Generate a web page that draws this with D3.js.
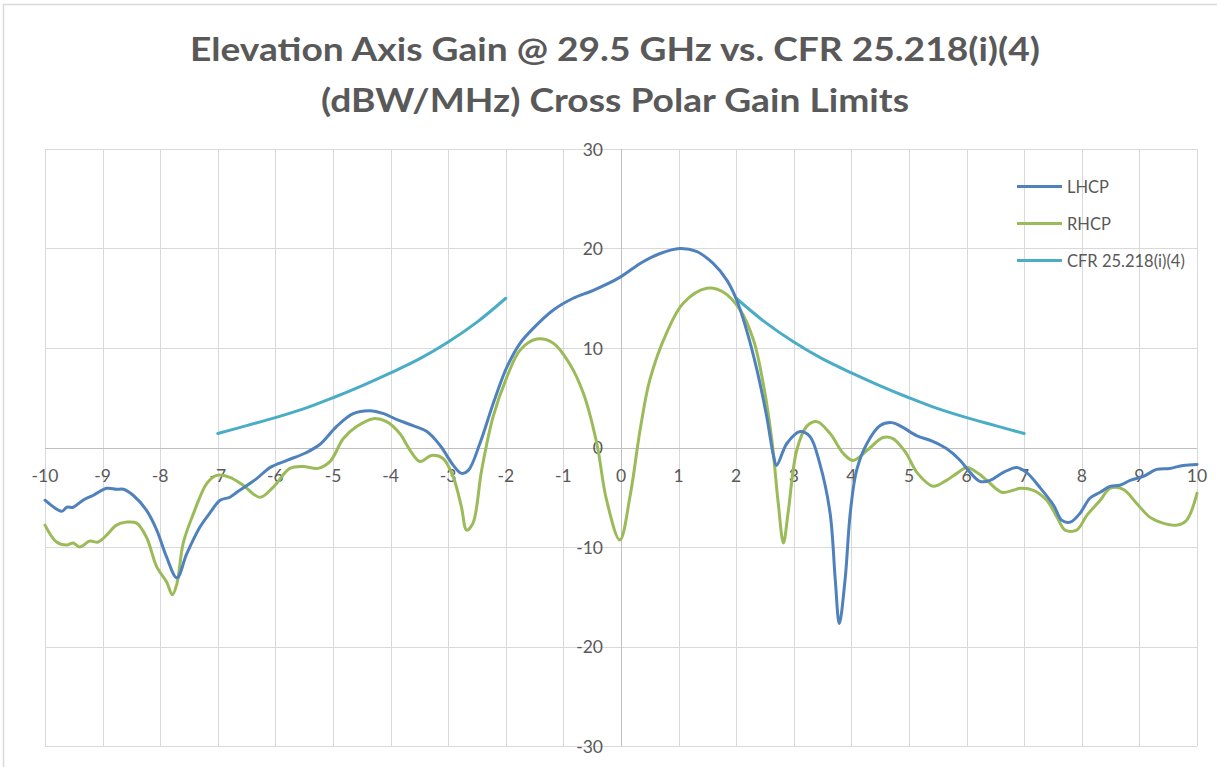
<!DOCTYPE html>
<html>
<head>
<meta charset="utf-8">
<script src="https://cdn.jsdelivr.net/npm/d3@7"></script>
<style>
  html, body { margin: 0; padding: 0; background: #fff; }
  svg { display: block; }
</style>
</head>
<body>
<svg id="chart" width="1217" height="767"></svg>
<script>
// Elevation angle (deg) and gain (dBW/MHz) for each polarisation
const lhcpX = [-10,-9.71,-9.62,-9.51,-9.34,-9.16,-8.93,-8.76,-8.64,-8.47,-8.24,-8.06,-7.89,-7.71,-7.54,-7.31,-7.14,-6.96,-6.79,-6.67,-6.32,-6.09,-5.8,-5.46,-5.23,-4.94,-4.65,-4.36,-4.12,-3.89,-3.61,-3.37,-3.14,-2.91,-2.77,-2.65,-2.45,-2.22,-1.98,-1.75,-1.52,-1.18,-0.83,-0.48,-0.02,0.36,0.68,1.02,1.31,1.6,1.84,2.01,2.18,2.36,2.53,2.65,2.7,2.88,3.11,3.28,3.45,3.63,3.72,3.79,3.89,3.98,4.09,4.27,4.5,4.7,4.87,5.13,5.42,5.65,5.89,6.03,6.23,6.41,6.64,6.87,7.04,7.27,7.51,7.65,7.8,7.97,8.14,8.32,8.49,8.66,8.84,9.07,9.3,9.53,9.76,10];
const lhcpY = [-5.3,-6.4,-6.0,-6.0,-5.3,-4.8,-4.1,-4.2,-4.2,-4.8,-6.3,-8.3,-11.0,-13.1,-10.7,-8.0,-6.6,-5.3,-5.0,-4.5,-3.1,-2.0,-1.3,-0.5,0.3,2.1,3.4,3.7,3.4,2.8,2.2,1.6,0.2,-1.8,-2.6,-2.3,0.4,4.4,8.1,10.5,12.0,13.8,15.0,15.8,17.1,18.6,19.5,20.0,19.7,18.5,16.8,14.8,11.8,7.8,3.1,-0.9,-1.8,0.4,1.6,1.1,-1.6,-6.6,-13.3,-17.7,-13.3,-6.6,-2.3,0.4,2.2,2.5,2.1,1.2,0.6,-0.1,-1.3,-2.3,-3.4,-3.3,-2.5,-2.0,-2.5,-4.0,-5.8,-7.3,-7.5,-6.6,-5.1,-4.5,-3.9,-3.8,-3.3,-2.9,-2.2,-2.1,-1.8,-1.7];

const rhcpX = [-10,-9.8,-9.62,-9.51,-9.4,-9.22,-9.08,-8.93,-8.76,-8.59,-8.41,-8.24,-8.06,-7.89,-7.79,-7.71,-7.6,-7.42,-7.19,-7.02,-6.79,-6.56,-6.27,-6.04,-5.75,-5.52,-5.26,-5.05,-4.82,-4.59,-4.3,-4.07,-3.84,-3.66,-3.49,-3.29,-3.09,-2.91,-2.77,-2.68,-2.57,-2.42,-2.22,-1.98,-1.75,-1.46,-1.18,-0.89,-0.65,-0.42,-0.25,-0.02,0.16,0.33,0.5,0.79,1.08,1.49,1.78,2.07,2.3,2.47,2.62,2.73,2.82,2.9,3.05,3.22,3.4,3.63,3.86,4.03,4.27,4.55,4.72,4.93,5.15,5.42,5.65,5.83,6.01,6.2,6.35,6.61,6.81,6.93,7.16,7.39,7.57,7.71,7.91,8.09,8.32,8.49,8.72,8.95,9.18,9.41,9.65,9.82,10];
const rhcpY = [-7.8,-9.5,-9.8,-9.6,-10.0,-9.4,-9.5,-8.8,-7.8,-7.5,-7.6,-9.0,-12.0,-13.5,-14.8,-13.7,-9.6,-6.6,-3.6,-2.8,-3.0,-3.8,-5.0,-4.0,-2.1,-1.9,-2.1,-1.4,0.9,2.1,2.9,2.6,1.4,-0.3,-1.4,-0.8,-1.1,-3.0,-6.0,-8.3,-7.6,-2.3,3.1,7.1,9.8,10.9,10.5,8.4,5.4,0.4,-5.3,-9.3,-4.8,1.7,6.8,11.5,14.5,16.0,15.6,13.8,10.8,6.4,0.7,-5.6,-9.6,-6.6,-0.3,2.1,2.6,1.4,-0.6,-1.3,-0.3,1.0,0.9,-0.4,-2.6,-3.9,-3.3,-2.6,-2.0,-2.6,-3.3,-4.5,-4.3,-4.1,-4.3,-5.3,-7.0,-8.3,-8.3,-6.8,-5.3,-4.1,-4.2,-5.6,-7.0,-7.6,-7.8,-7.3,-4.6];

// Cross-polar limit envelope, two branches either side of boresight
const cfrLeftX  = [-7,-6.5,-6,-5.5,-5,-4.5,-4,-3.5,-3,-2.5,-2];
const cfrLeftY  = [1.4,2.2,3.0,3.9,5.0,6.2,7.5,8.9,10.6,12.6,15.0];
const cfrRightX = [2,2.5,3,3.5,4,4.5,5,5.5,6,6.5,7];
const cfrRightY = [15.0,12.6,10.6,8.9,7.5,6.2,5.0,3.9,3.0,2.2,1.4];

const xTicks = [-10,-9,-8,-7,-6,-5,-4,-3,-2,-1,0,1,2,3,4,5,6,7,8,9,10];
const yTicks = [-30,-20,-10,0,10,20,30];

const seriesNames = ["LHCP", "RHCP", "CFR 25.218(i)(4)"];
const seriesColors = ["#4F81BD", "#9BBB59", "#4BACC6"];

const titleLines = ["Elevation Axis Gain @ 29.5 GHz vs. CFR 25.218(i)(4)",
                    "(dBW/MHz) Cross Polar Gain Limits"];

const svg = d3.select("#chart");
const font = "Lato, 'Open Sans', 'DejaVu Sans', sans-serif";

// chart frame
svg.append("rect")
  .attr("x", 3.5).attr("y", 4.5).attr("width", 1240).attr("height", 800)
  .attr("fill", "#fff").attr("stroke", "#d9d9d9").attr("stroke-width", 1.5);

const x = d3.scaleLinear().domain([-10, 10]).range([45, 1197]);
const y = d3.scaleLinear().domain([-30, 30]).range([746, 149]);

// gridlines
svg.append("g")
  .selectAll("line").data(xTicks).join("line")
  .attr("x1", d => Math.round(x(d)) + 0.5).attr("x2", d => Math.round(x(d)) + 0.5)
  .attr("y1", y(30)).attr("y2", y(-30))
  .attr("stroke", "#d9d9d9").attr("stroke-width", 1);
svg.append("g")
  .selectAll("line").data(yTicks).join("line")
  .attr("x1", x(-10)).attr("x2", x(10))
  .attr("y1", d => Math.round(y(d)) + 0.5).attr("y2", d => Math.round(y(d)) + 0.5)
  .attr("stroke", "#d9d9d9").attr("stroke-width", 1);

// axes crossing at the origin
svg.append("line")
  .attr("x1", Math.round(x(0)) + 0.5).attr("x2", Math.round(x(0)) + 0.5)
  .attr("y1", y(30)).attr("y2", y(-30))
  .attr("stroke", "#bfbfbf").attr("stroke-width", 1);
svg.append("line")
  .attr("x1", x(-10)).attr("x2", x(10))
  .attr("y1", Math.round(y(0)) + 0.5).attr("y2", Math.round(y(0)) + 0.5)
  .attr("stroke", "#bfbfbf").attr("stroke-width", 1);

// tick labels
svg.append("g").selectAll("text").data(xTicks).join("text")
  .attr("x", d => x(d)).attr("y", y(0) + 34)
  .attr("text-anchor", "middle")
  .attr("font-family", font).attr("font-size", 17.5).attr("fill", "#595959")
  .text(d => d);
svg.append("g").selectAll("text").data(yTicks).join("text")
  .attr("x", x(0) - 18).attr("y", d => y(d) + 6.5)
  .attr("text-anchor", "end")
  .attr("font-family", font).attr("font-size", 17.5).attr("fill", "#595959")
  .text(d => d);

// series
const line = d3.line()
  .x(d => x(d[0])).y(d => y(d[1]))
  .curve(d3.curveCatmullRom.alpha(0.5));

const zip = (xs, ys) => xs.map((v, i) => [v, ys[i]]);

const series = [
  { data: [zip(cfrLeftX, cfrLeftY), zip(cfrRightX, cfrRightY)], color: seriesColors[2] },
  { data: [zip(rhcpX, rhcpY)], color: seriesColors[1] },
  { data: [zip(lhcpX, lhcpY)], color: seriesColors[0] }
];
series.forEach(s => {
  s.data.forEach(pts => {
    svg.append("path")
      .attr("d", line(pts))
      .attr("fill", "none")
      .attr("stroke", s.color)
      .attr("stroke-width", 3)
      .attr("stroke-linejoin", "round")
      .attr("stroke-linecap", "round");
  });
});

// legend
const legend = svg.append("g");
seriesNames.forEach((name, i) => {
  const ly = 186.5 + i * 37;
  legend.append("line")
    .attr("x1", 1017).attr("x2", 1062).attr("y1", ly).attr("y2", ly)
    .attr("stroke", seriesColors[i]).attr("stroke-width", 3);
  legend.append("text")
    .attr("x", 1067).attr("y", ly + 6)
    .attr("font-family", font).attr("font-size", 16.5).attr("fill", "#595959")
    .text(name);
});

// title
svg.append("g").selectAll("text").data(titleLines).join("text")
  .attr("x", 615).attr("y", (d, i) => i === 0 ? 61 : 112)
  .attr("text-anchor", "middle")
  .attr("font-family", font).attr("font-weight", "bold")
  .attr("font-size", 33).attr("fill", "#595959")
  .attr("textLength", (d, i) => i === 0 ? 850 : 588)
  .attr("lengthAdjust", "spacingAndGlyphs")
  .text(d => d);
</script>
</body>
</html>
